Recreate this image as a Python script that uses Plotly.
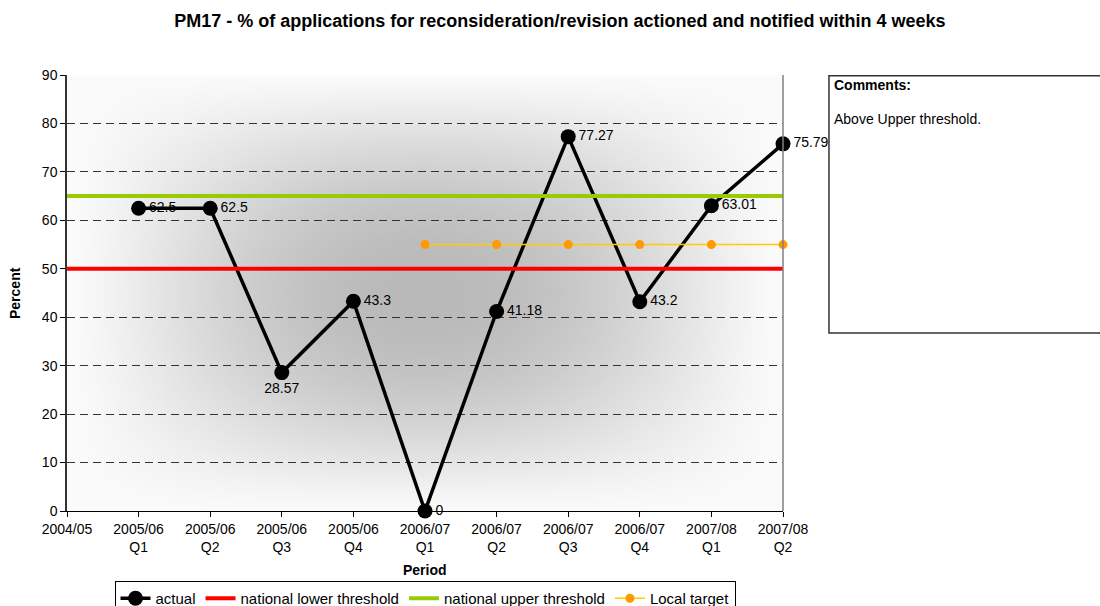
import base64
import struct
import zlib

import numpy as np
import plotly.graph_objects as go

# ---- data -------------------------------------------------------------
periods = [
    "2004/05",
    "2005/06<br>Q1", "2005/06<br>Q2", "2005/06<br>Q3", "2005/06<br>Q4",
    "2006/07<br>Q1", "2006/07<br>Q2", "2006/07<br>Q3", "2006/07<br>Q4",
    "2007/08<br>Q1", "2007/08<br>Q2",
]
actual_periods = periods[1:]
actual = [62.5, 62.5, 28.57, 43.3, 0, 41.18, 77.27, 43.2, 63.01, 75.79]
lower_threshold = [50] * len(periods)
upper_threshold = [65] * len(periods)
target_periods = periods[5:]
local_target = [55] * len(target_periods)

FONT = "Liberation Sans, Arial, sans-serif"

# ---- plot-area background: soft grey glow from the centre ---------------
def gradient_png(w=240, h=150):
    u = np.linspace(-1, 1, w)[None, :]
    v = np.linspace(-1, 1, h)[:, None]
    fu = np.clip(1 - u ** 2, 0, 1) ** 1.4
    fv = np.clip(1 - v ** 2, 0, 1) ** 1.2
    g = (251 - 66 * fu * fv).astype(np.uint8)
    raw = b"".join(b"\x00" + row.tobytes() for row in g)

    def chunk(tag, data):
        c = struct.pack(">I", len(data)) + tag + data
        return c + struct.pack(">I", zlib.crc32(tag + data) & 0xFFFFFFFF)

    png = b"\x89PNG\r\n\x1a\n"
    png += chunk(b"IHDR", struct.pack(">IIBBBBB", w, h, 8, 0, 0, 0, 0))
    png += chunk(b"IDAT", zlib.compress(raw, 9))
    png += chunk(b"IEND", b"")
    return "data:image/png;base64," + base64.b64encode(png).decode()


fig = go.Figure()

# value labels sit beneath the lines
label_pos = ["middle right"] * len(actual)
label_pos[actual.index(28.57)] = "bottom center"
fig.add_trace(go.Scatter(
    x=actual_periods, y=actual, mode="markers+text",
    marker=dict(size=15, color="rgba(0,0,0,0)"),
    texttemplate="%{y}", textposition=label_pos,
    textfont=dict(family=FONT, size=14, color="#000"),
    showlegend=False, hoverinfo="skip", cliponaxis=False,
))

fig.add_trace(go.Scatter(
    x=actual_periods, y=actual, name="actual", mode="lines+markers",
    line=dict(color="#000000", width=3.5),
    marker=dict(size=15, color="#000000"), cliponaxis=False,
))
fig.add_trace(go.Scatter(
    x=periods, y=lower_threshold, name="national lower threshold",
    mode="lines", line=dict(color="#FF0000", width=4),
))
fig.add_trace(go.Scatter(
    x=periods, y=upper_threshold, name="national upper threshold",
    mode="lines", line=dict(color="#99CC00", width=4),
))
fig.add_trace(go.Scatter(
    x=target_periods, y=local_target, name="Local target",
    mode="lines+markers", line=dict(color="#FFCC00", width=1.5),
    marker=dict(size=9, color="#FF9900"), cliponaxis=False,
))

fig.update_layout(
    width=1100, height=606,
    margin=dict(l=67, r=317, t=75, b=95),
    paper_bgcolor="white", plot_bgcolor="white",
    font=dict(family=FONT, size=14, color="#000"),
    title=dict(
        text="<b>PM17 - % of applications for reconsideration/revision actioned and notified within 4 weeks</b>",
        x=0.509, xref="container", xanchor="center",
        y=0.966, yref="container", yanchor="middle",
        font=dict(family=FONT, size=18, color="#000"),
    ),
    xaxis=dict(
        type="category", categoryorder="array", categoryarray=periods,
        range=[0, len(periods) - 1], automargin=False,
        showline=True, linecolor="#000", linewidth=1,
        ticks="outside", ticklen=5, tickcolor="#000",
        showgrid=False, zeroline=False,
        tickfont=dict(family=FONT, size=14),
    ),
    yaxis=dict(
        range=[0, 90], dtick=10, automargin=False,
        showline=True, linecolor="#333", linewidth=1.5,
        ticks="outside", ticklen=5, tickcolor="#000",
        showgrid=True, gridcolor="#333", gridwidth=1, griddash="8px,5px",
        zeroline=False,
        tickfont=dict(family=FONT, size=14),
    ),
    legend=dict(
        orientation="h", x=0.5, xanchor="center",
        y=1 - 581 / 606, yref="container", yanchor="top",
        bordercolor="#000", borderwidth=1, bgcolor="white",
        font=dict(family=FONT, size=15),
        itemwidth=30, tracegroupgap=0,
    ),
    images=[dict(
        source=gradient_png(), xref="paper", yref="paper",
        x=0, y=1, sizex=1, sizey=1, xanchor="left", yanchor="top",
        sizing="stretch", layer="below",
    )],
    shapes=[
        # right edge of the plot area
        dict(type="line", xref="paper", yref="paper", x0=1, x1=1, y0=0, y1=1,
             line=dict(color="#808080", width=1.5)),
        # comments panel
        dict(type="rect", xref="paper", yref="paper",
             x0=1.0642, x1=1.47, y0=0.408, y1=0.998,
             line=dict(color="#333", width=1.5), fillcolor="white"),
    ],
    annotations=[
        dict(text="<b>Percent</b>", xref="paper", yref="paper",
             x=-0.0726, y=0.5, textangle=-90, showarrow=False,
             xanchor="center", yanchor="middle", font=dict(size=14)),
        dict(text="<b>Period</b>", xref="paper", yref="paper",
             x=0.5, y=-0.135, showarrow=False,
             xanchor="center", yanchor="middle", font=dict(size=14)),
        dict(text="<b>Comments:</b>", xref="paper", yref="paper",
             x=1.0684, y=0.977, showarrow=False,
             xanchor="left", yanchor="middle", font=dict(size=14)),
        dict(text="Above Upper threshold.", xref="paper", yref="paper",
             x=1.0684, y=0.899, showarrow=False,
             xanchor="left", yanchor="middle", font=dict(size=14)),
    ],
)

fig.write_html("out.html")
